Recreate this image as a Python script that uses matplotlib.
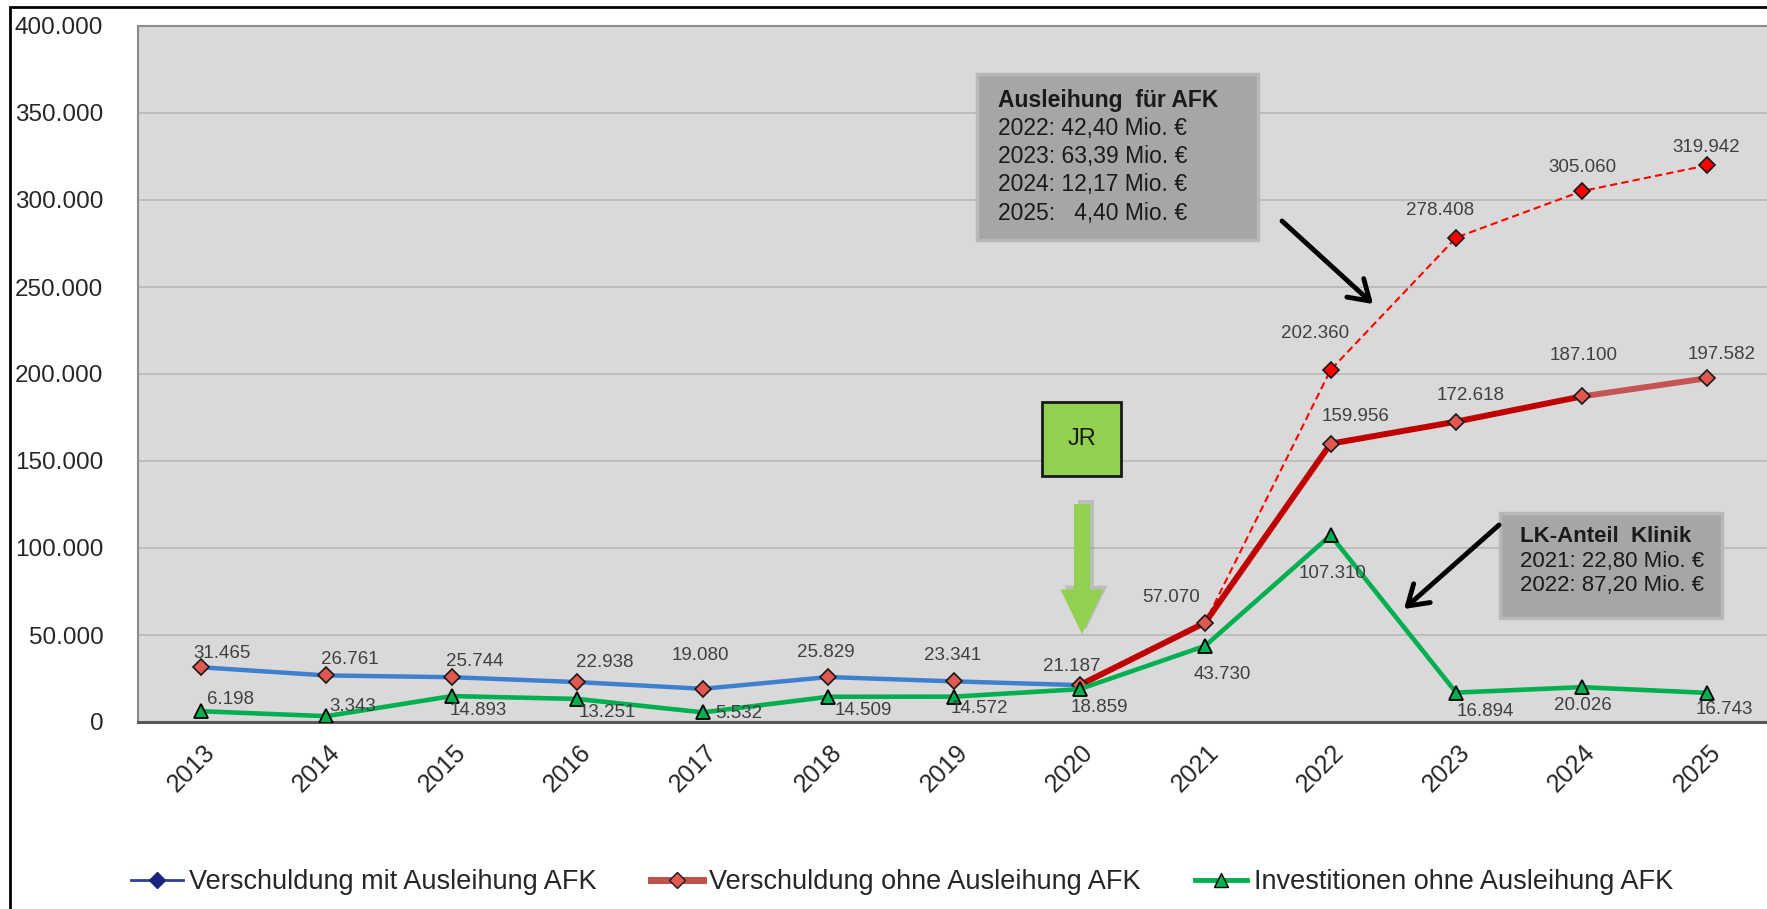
import matplotlib
matplotlib.use("Agg")
import matplotlib.pyplot as plt
import matplotlib.patches as mpatches
import matplotlib.transforms as mtransforms
from matplotlib.lines import Line2D
from matplotlib.ticker import FuncFormatter, MultipleLocator

# data (TEUR)
years = [2013, 2014, 2015, 2016, 2017, 2018, 2019, 2020, 2021, 2022, 2023, 2024, 2025]
mit_afk = [31465, 26761, 25744, 22938, 19080, 25829, 23341, 21187, 57070, 202360, 278408, 305060, 319942]
ohne_afk = [31465, 26761, 25744, 22938, 19080, 25829, 23341, 21187, 57070, 159956, 172618, 187100, 197582]
invest = [6198, 3343, 14893, 13251, 5532, 14509, 14572, 18859, 43730, 107310, 16894, 20026, 16743]

afk_title = "Ausleihung  für AFK"
afk_lines = ["2022: 42,40 Mio. €", "2023: 63,39 Mio. €", "2024: 12,17 Mio. €", "2025:   4,40 Mio. €"]
klinik_title = "LK-Anteil  Klinik"
klinik_lines = ["2021: 22,80 Mio. €", "2022: 87,20 Mio. €"]

plt.rcParams['font.family'] = ['Liberation Sans', 'DejaVu Sans']

W, H = 1767, 909


def fx(px):
    return px / W


def fy(py):
    return 1 - py / H


def de(v):
    return f"{v:,.0f}".replace(",", ".")


fig = plt.figure(figsize=(W / 100, H / 100), dpi=100)
ax = fig.add_axes([fx(138), fy(722), (1770 - 138) / W, (722 - 26) / H])
ax.set_facecolor('#d9d9d9')

x = list(range(len(years)))
i20 = years.index(2020)
i22 = years.index(2022)
i24 = years.index(2024)

# lines
ax.plot(x[:i20 + 1], ohne_afk[:i20 + 1], color='#3f7fcf', lw=3.2, zorder=3)
ax.plot(x[i20:], mit_afk[i20:], color='#ff0000', lw=1.5, ls=(0, (3.5, 2)), zorder=2)
ax.plot(x[i20:i24 + 1], ohne_afk[i20:i24 + 1], color='#c00000', lw=4.3, zorder=3)
ax.plot(x[i24:], ohne_afk[i24:], color='#c65454', lw=4.3, zorder=3)

# markers
ax.plot(x[i22:], mit_afk[i22:], ls='none', marker='D', ms=8, mfc='#ff0000', mec='#1a1a1a', mew=1.2, zorder=5)
ax.plot(x, ohne_afk, ls='none', marker='D', ms=8, mfc='#e0584f', mec='#1a1a1a', mew=1.2, zorder=5)
ax.plot(x, invest, color='#00b050', lw=3.3, marker='^', ms=10, mfc='#00b050', mec='black', mew=1.3, zorder=6)

# data labels (offsets in pixels)
debt_off = [(21, 14), (24, 16), (23, 16), (27, 20), (-3, 33), (-3, 25), (-1, 26), (-8, 19),
            (-34, 25), (25, 27), (14, 26), (2, 41), (14, 24)]
mit_off = [(-16, 36), (-16, 27), (1, 24), (-1, 18)]
inv_off = [(30, 12), (26, 10), (26, -14), (30, -14), (36, -1), (35, -14), (25, -12), (20, -18),
           (17, -29), (2, -38), (29, -19), (1, -18), (17, -17)]

lab = dict(textcoords='offset pixels', ha='center', va='center', fontsize=13.5, color='#404040', zorder=7)
for i, v in enumerate(ohne_afk):
    ax.annotate(de(v), (x[i], v), xytext=debt_off[i], **lab)
for k, i in enumerate(range(i22, len(x))):
    ax.annotate(de(mit_afk[i]), (x[i], mit_afk[i]), xytext=mit_off[k], **lab)
for i, v in enumerate(invest):
    ax.annotate(de(v), (x[i], v), xytext=inv_off[i], **lab)

# axes
ax.set_xlim(-0.5, len(x) - 0.5)
ax.set_ylim(0, 400000)
ax.yaxis.set_major_locator(MultipleLocator(50000))
ax.yaxis.set_major_formatter(FuncFormatter(lambda v, p: de(v)))
ax.grid(axis='y', color='#bdbdbd', lw=1.4)
ax.set_axisbelow(True)
ax.set_xticks(x)
ax.set_xticklabels([str(y) for y in years])
ax.tick_params(axis='y', length=0, pad=25, labelsize=17.5, labelcolor='#262626')
ax.tick_params(axis='x', length=0, pad=19, labelsize=18, labelcolor='#262626')
shift = mtransforms.ScaledTranslation(10 / 100, 0, fig.dpi_scale_trans)
for t in ax.get_xticklabels():
    t.set_rotation(45)
    t.set_ha('right')
    t.set_va('center')
    t.set_rotation_mode('anchor')
    t.set_transform(t.get_transform() + shift)
for s in ['left', 'top', 'right']:
    ax.spines[s].set_color('#8c8c8c')
    ax.spines[s].set_linewidth(1.5)
ax.spines['bottom'].set_color('#595959')
ax.spines['bottom'].set_linewidth(2.2)

# outer frame
fig.add_artist(mpatches.Rectangle((fx(10), -0.05), 1.1, fy(7) + 0.05, transform=fig.transFigure,
                                  fill=False, ec='black', lw=2))

# grey info boxes
fig.add_artist(mpatches.Rectangle((fx(977), fy(240)), (1258 - 977) / W, (240 - 74) / H,
                                  transform=fig.transFigure, fc='#a6a6a6', ec='#b8b8b8', lw=2.5))
fig.text(fx(998), fy(100), afk_title, fontsize=16.5, fontweight='bold', color='#1a1a1a', va='center')
for k, t in enumerate(afk_lines):
    fig.text(fx(998), fy(128.5 + k * 28.2), t, fontsize=16.5, color='#1a1a1a', va='center')

fig.add_artist(mpatches.Rectangle((fx(1500), fy(618)), (1722 - 1500) / W, (618 - 513) / H,
                                  transform=fig.transFigure, fc='#a6a6a6', ec='#b8b8b8', lw=2.5))
fig.text(fx(1520), fy(536), klinik_title, fontsize=16, fontweight='bold', color='#1a1a1a', va='center')
for k, t in enumerate(klinik_lines):
    fig.text(fx(1520), fy(561 + k * 24.5), t, fontsize=16, color='#1a1a1a', va='center')

# black arrows
arr = dict(arrowstyle='->,head_length=0.7,head_width=0.45', lw=3.5, color='black', mutation_scale=20,
           shrinkA=0, shrinkB=0)
fig.add_artist(mpatches.FancyArrowPatch((1282, H - 221), (1373, H - 304), transform=None, **arr))
fig.add_artist(mpatches.FancyArrowPatch((1499, H - 525), (1404, H - 609), transform=None, **arr))

# JR box and green arrow
fig.add_artist(mpatches.Rectangle((fx(1042), fy(476)), (1121 - 1042) / W, (476 - 402) / H,
                                  transform=fig.transFigure, fc='#92d050', ec='#1a1a1a', lw=2))
fig.text(fx(1082), fy(439), "JR", fontsize=17, ha='center', va='center', color='#1a1a1a')
green = dict(arrowstyle='simple,head_length=1.6,head_width=1.55,tail_width=0.58', mutation_scale=20,
             shrinkA=0, shrinkB=0)
fig.add_artist(mpatches.FancyArrowPatch((1086, H - 500), (1086, H - 630), transform=None,
                                        fc='#7f7f7f', ec='none', alpha=0.3, **green))
fig.add_artist(mpatches.FancyArrowPatch((1082, H - 504), (1082, H - 634), transform=None,
                                        fc='#92d050', ec='none', **green))

# legend
handles = [
    Line2D([], [], color='#2e3f9e', lw=2, marker='D', ms=8, mfc='#1a237e', mec='#1a237e',
           label='Verschuldung mit Ausleihung AFK'),
    Line2D([], [], color='#c0504d', lw=5, marker='D', ms=8, mfc='#e0584f', mec='#1a1a1a',
           label='Verschuldung ohne Ausleihung AFK'),
    Line2D([], [], color='#00b050', lw=3.5, marker='^', ms=10, mfc='#00b050', mec='black',
           label='Investitionen ohne Ausleihung AFK'),
]
fig.legend(handles=handles, loc='center', bbox_to_anchor=(fx(902), fy(882)), ncol=3, frameon=False,
           fontsize=19.5, handlelength=1.9, handletextpad=0.25, columnspacing=2.0, labelcolor='#262626')

fig.savefig("out.png", dpi=100, facecolor='white')
